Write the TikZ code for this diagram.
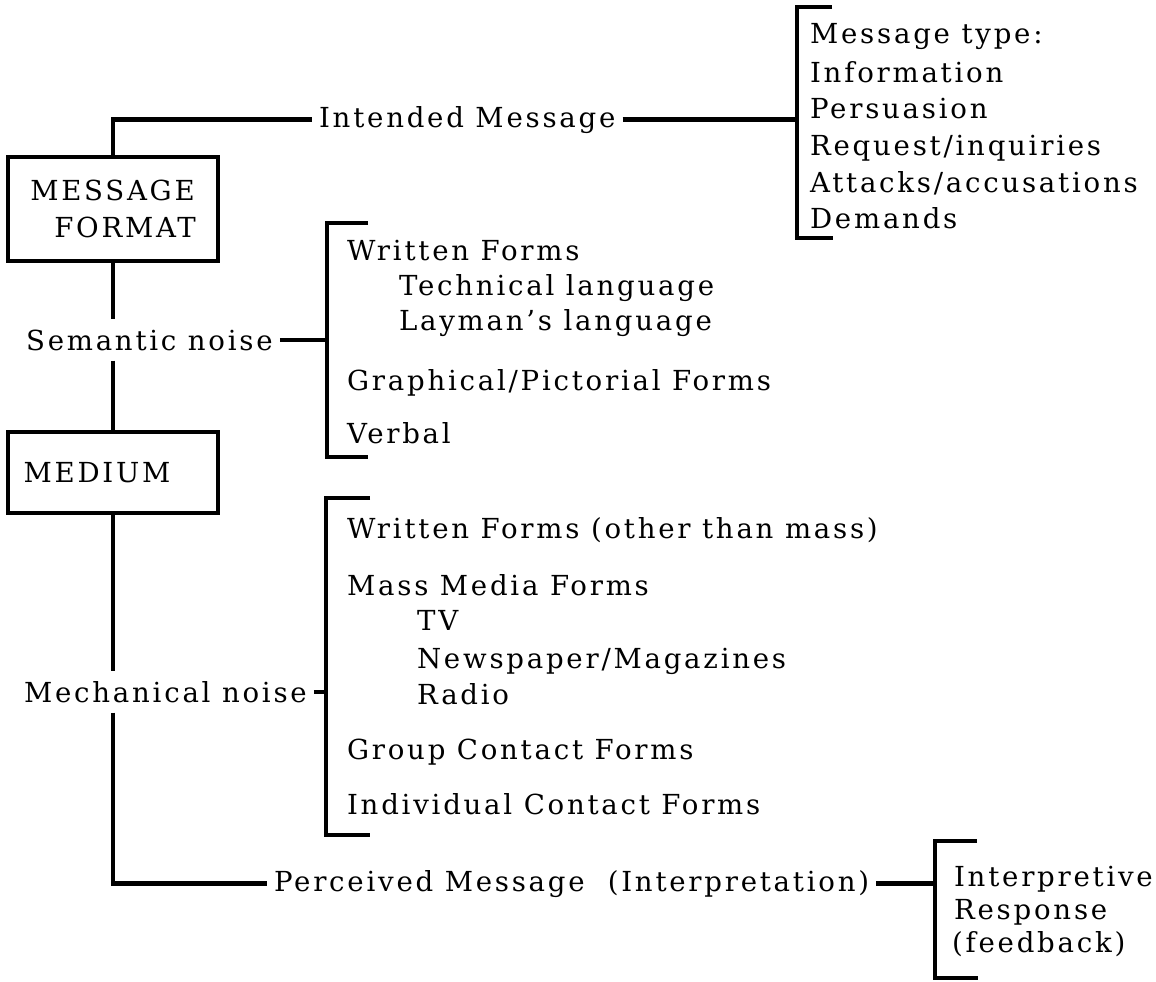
\documentclass[tikz,border=0pt]{standalone}
\usepackage{fontspec}
\setmainfont{DejaVu Serif}[LetterSpace=10]

\begin{document}
\begin{tikzpicture}[x=0.5pt,y=-0.5pt,font=\fontsize{13.8}{18.5}\selectfont,line width=2.1pt]
\tikzset{stagebox/.style={draw,rectangle,minimum width=105pt,inner sep=0},
  noiselabel/.style={anchor=base west,inner xsep=2.5pt,inner ysep=4pt},
  listitem/.style={anchor=base west,inner sep=0}}
\useasboundingbox (0,0) rectangle (1156,981);
\node[stagebox,minimum height=52pt,align=left](fmt) at (113,209){MESSAGE\\\hspace*{12pt}FORMAT};
\node[stagebox,minimum height=40.5pt](med) at (113,472.5){MEDIUM\hspace*{16pt}};
\node[noiselabel](intended) at (312,127){Intended Message};
\node[noiselabel](semantic) at (19,350){Semantic noise};
\node[noiselabel](mechanical) at (17,702){Mechanical noise};
\node[noiselabel](perceived) at (267,891){Perceived Message\ \ (Interpretation)};
\coordinate (typesbr) at (797,122);
\coordinate (writtenbr) at (327,340);
\coordinate (formsbr) at (326,690);
\coordinate (feedbackbr) at (935,910);
\draw (832,7) -| (typesbr) |- (833,238);
\draw (368,223) -| (writtenbr) |- (368,457);
\draw (370,498) -| (formsbr) |- (370,835);
\draw (977,841) -| (feedbackbr) |- (978,978);
\node[listitem](msgtype) at (808,43){Message type:};
\node[listitem](information) at (808,82){Information};
\node[listitem](persuasion) at (808,118){Persuasion};
\node[listitem](request) at (808,155){Request/inquiries};
\node[listitem](attacks) at (808,192){Attacks/accusations};
\node[listitem](demands) at (808,228){Demands};
\node[listitem](written) at (345,260){Written Forms};
\node[listitem](technical) at (397,295){Technical language};
\node[listitem](layman) at (397,330){Layman's language};
\node[listitem](graphical) at (345,390){Graphical/Pictorial Forms};
\node[listitem](verbal) at (345,443){Verbal};
\node[listitem](writtenother) at (345,538){Written Forms (other than mass)};
\node[listitem](massmedia) at (345,595){Mass Media Forms};
\node[listitem](tv) at (415,630){TV};
\node[listitem](newspaper) at (415,668){Newspaper/Magazines};
\node[listitem](radio) at (415,704){Radio};
\node[listitem](group) at (345,759){Group Contact Forms};
\node[listitem](individual) at (345,814){Individual Contact Forms};
\node[listitem](interpretive) at (952,886){Interpretive};
\node[listitem](response) at (952,919){Response};
\node[listitem](feedback) at (950,952){(feedback)};
\draw (fmt.north) |- (intended.west);
\draw (intended.east) -- (intended.east -| typesbr);
\draw (fmt.south) -- (fmt.south |- semantic.north);
\draw (semantic.south -| fmt.south) -- (med.north);
\draw (semantic.east) -- (semantic.east -| writtenbr);
\draw (med.south) -- (med.south |- mechanical.north);
\draw (mechanical.south -| med.south) |- (perceived.west);
\draw (mechanical.east) -- (mechanical.east -| formsbr);
\draw (perceived.east) -- (perceived.east -| feedbackbr);
\end{tikzpicture}
\end{document}
